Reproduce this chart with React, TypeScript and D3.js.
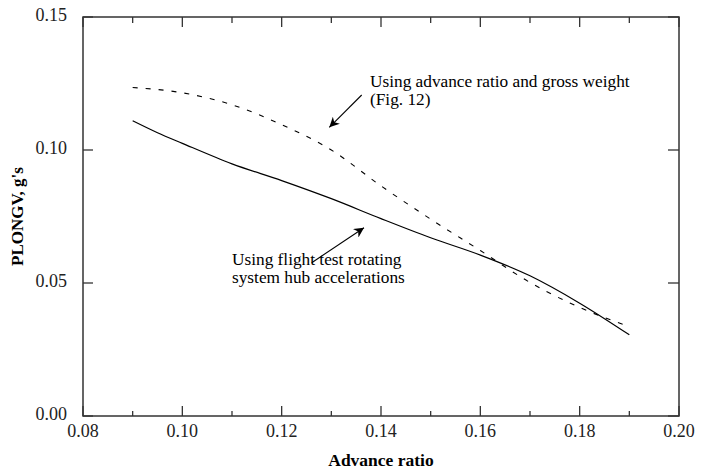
import React from "react";
import * as d3 from "d3";

const xSolid = [0.09, 0.095, 0.10, 0.11, 0.12, 0.13, 0.14, 0.15, 0.16, 0.17, 0.18, 0.19];
const ySolid = [0.111, 0.1065, 0.1025, 0.0948, 0.0885, 0.0817, 0.0742, 0.067, 0.0605, 0.0527, 0.0424, 0.0305];
const xDashed = [0.09, 0.10, 0.11, 0.12, 0.13, 0.14, 0.15, 0.16, 0.17, 0.18, 0.19];
const yDashed = [0.1235, 0.1215, 0.117, 0.1095, 0.1, 0.0865, 0.074, 0.0622, 0.0502, 0.0408, 0.0336];
const xMajorTicks = [0.08, 0.10, 0.12, 0.14, 0.16, 0.18, 0.20];
const xMinorTicks = [0.09, 0.11, 0.13, 0.15, 0.17, 0.19];
const yMajorTicks = [0.0, 0.05, 0.10, 0.15];

const W = 709, H = 472;
const M = { left: 83, right: 679, top: 17, bottom: 416 };
const FONT = "'Liberation Serif', 'Times New Roman', serif";

export default function App() {
  const x = d3.scaleLinear().domain([0.08, 0.20]).range([M.left, M.right]);
  const y = d3.scaleLinear().domain([0, 0.15]).range([M.bottom, M.top]);
  const line = d3.line<[number, number]>().x(d => x(d[0])).y(d => y(d[1])).curve(d3.curveMonotoneX);
  const solid = line(xSolid.map((v, i) => [v, ySolid[i]]) as [number, number][]) || "";
  const dashed = line(xDashed.map((v, i) => [v, yDashed[i]]) as [number, number][]) || "";
  const axisColor = "#333";
  return (
    <svg width={W} height={H} style={{ position: "absolute", left: 0, top: 0, background: "#fff" }} fontFamily={FONT}>
      <defs>
        <marker id="ah" viewBox="0 0 10 10" refX="10" refY="5" markerWidth="16" markerHeight="10" markerUnits="userSpaceOnUse" orient="auto">
          <path d="M0,0 L10,5 L0,10 L3,5 Z" fill="#000" />
        </marker>
      </defs>
      <rect x={M.left} y={M.top} width={M.right - M.left} height={M.bottom - M.top} fill="none" stroke={axisColor} strokeWidth={1.5} />
      {xMajorTicks.map(t => (
        <g key={"xm" + t}>
          <line x1={x(t)} x2={x(t)} y1={M.bottom} y2={M.bottom - 10} stroke={axisColor} strokeWidth={1.3} />
          <line x1={x(t)} x2={x(t)} y1={M.top} y2={M.top + 10} stroke={axisColor} strokeWidth={1.3} />
          <text x={x(t)} y={M.bottom + 21} textAnchor="middle" fontSize={18} fill="#222">{t.toFixed(2)}</text>
        </g>
      ))}
      {xMinorTicks.map(t => (
        <g key={"xn" + t}>
          <line x1={x(t)} x2={x(t)} y1={M.bottom} y2={M.bottom - 5} stroke={axisColor} strokeWidth={1.3} />
          <line x1={x(t)} x2={x(t)} y1={M.top} y2={M.top + 6} stroke={axisColor} strokeWidth={1.3} />
        </g>
      ))}
      {yMajorTicks.map(t => (
        <g key={"y" + t}>
          <line x1={M.left} x2={M.left + 10} y1={y(t)} y2={y(t)} stroke={axisColor} strokeWidth={1.3} />
          <line x1={M.right} x2={M.right - 11} y1={y(t)} y2={y(t)} stroke={axisColor} strokeWidth={1.3} />
          <text x={67} y={y(t) + 4} textAnchor="end" fontSize={18} fill="#222">{t.toFixed(2)}</text>
        </g>
      ))}
      <path d={solid} fill="none" stroke="#000" strokeWidth={1.2} />
      <path d={dashed} fill="none" stroke="#000" strokeWidth={1.1} strokeDasharray="5,8" />
      <text x={370} y={87} fontSize={17.3} fill="#000">Using advance ratio and gross weight</text>
      <text x={370} y={105} fontSize={17.3} fill="#000">(Fig. 12)</text>
      <line x1={361.7} y1={95} x2={329.3} y2={127.3} stroke="#000" strokeWidth={1.1} markerEnd="url(#ah)" />
      <text x={232} y={265} fontSize={17.3} fill="#000">Using flight test rotating</text>
      <text x={232} y={283} fontSize={17.3} fill="#000">system hub accelerations</text>
      <line x1={311.7} y1={262.7} x2={364} y2={227.7} stroke="#000" strokeWidth={1.1} markerEnd="url(#ah)" />
      <text transform={`translate(23,${(M.top + M.bottom) / 2}) rotate(-90)`} textAnchor="middle" fontSize={17} fontWeight="bold" fill="#000">PLONGV, g's</text>
      <text x={(M.left + M.right) / 2} y={466} textAnchor="middle" fontSize={17.5} fontWeight="bold" fill="#000">Advance ratio</text>
    </svg>
  );
}
